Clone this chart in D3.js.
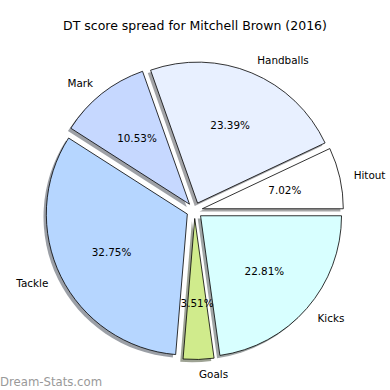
<!DOCTYPE html>
<html>
<head>
<meta charset="utf-8">
<script src="https://cdn.jsdelivr.net/npm/d3@7"></script>
<style>
html,body{margin:0;padding:0;background:#fff;}
svg{display:block;}
text{font-family:"DejaVu Sans",sans-serif;fill:#000;}
</style>
</head>
<body>
<svg id="chart" width="390" height="390"></svg>
<script>
const categories = ["Hitout", "Handballs", "Mark", "Tackle", "Goals", "Kicks"];
const values = [7.02, 23.39, 10.53, 32.75, 3.51, 22.81];
const colors = ["#ffffff", "#e8f0ff", "#c6d8ff", "#b6d6ff", "#d0eb8c", "#d8ffff"];
const titleText = "DT score spread for Mitchell Brown (2016)";
const watermark = "Dream-Stats.com";

const W = 390, H = 390;
const cx = 194.5, cy = 210.5, R = 141;
const explode = 8;
const shadowOff = 0.02 * R;

const svg = d3.select("#chart");
svg.append("rect").attr("width", W).attr("height", H).attr("fill", "#fff");

svg.append("text")
  .attr("x", 195).attr("y", 25)
  .attr("text-anchor", "middle")
  .attr("dominant-baseline", "central")
  .style("font-size", "12.5px")
  .text(titleText);

const data = categories.map((c, i) => ({ cat: c, value: values[i], color: colors[i] }));
const pie = d3.pie().sort(null).value(d => d.value)
  .startAngle(Math.PI / 2).endAngle(Math.PI / 2 - 2 * Math.PI);
const arcs = pie(data);
const arc = d3.arc().innerRadius(0).outerRadius(R);

function centerOf(a) {
  const m = (a.startAngle + a.endAngle) / 2;
  return [cx + explode * Math.sin(m), cy - explode * Math.cos(m), m];
}

const g = svg.append("g");
// shadows
arcs.forEach(a => {
  const [x, y] = centerOf(a);
  const c = d3.rgb(a.data.color);
  const sc = d3.rgb(c.r * 0.3, c.g * 0.3, c.b * 0.3);
  g.append("path")
    .attr("transform", `translate(${x - shadowOff},${y + shadowOff})`)
    .attr("d", arc(a))
    .attr("fill", sc.toString())
    .attr("fill-opacity", 0.5)
    .attr("stroke", "none");
});
// wedges
arcs.forEach(a => {
  const [x, y] = centerOf(a);
  g.append("path")
    .attr("transform", `translate(${x},${y})`)
    .attr("d", arc(a))
    .attr("fill", a.data.color)
    .attr("stroke", "#000")
    .attr("stroke-width", 0.8)
    .attr("stroke-linejoin", "round");
});
// labels
arcs.forEach(a => {
  const [x, y, m] = centerOf(a);
  const lx = x + 1.1 * R * Math.sin(m), ly = y - 1.1 * R * Math.cos(m);
  svg.append("text")
    .attr("x", lx).attr("y", ly)
    .attr("text-anchor", Math.sin(m) > 0 ? "start" : "end")
    .attr("dominant-baseline", "central")
    .style("font-size", "10.4px")
    .text(a.data.cat);
  const px = x + 0.6 * R * Math.sin(m), py = y - 0.6 * R * Math.cos(m);
  svg.append("text")
    .attr("x", px).attr("y", py)
    .attr("text-anchor", "middle")
    .attr("dominant-baseline", "central")
    .style("font-size", "10.4px")
    .text(d3.format(".2f")(a.data.value) + "%");
});

svg.append("text")
  .attr("x", 0).attr("y", 386)
  .style("font-family", "'DejaVu Sans Condensed','DejaVu Sans',sans-serif")
  .style("font-stretch", "condensed")
  .style("font-size", "13px")
  .style("fill", "#999999")
  .text(watermark);
</script>
</body>
</html>
